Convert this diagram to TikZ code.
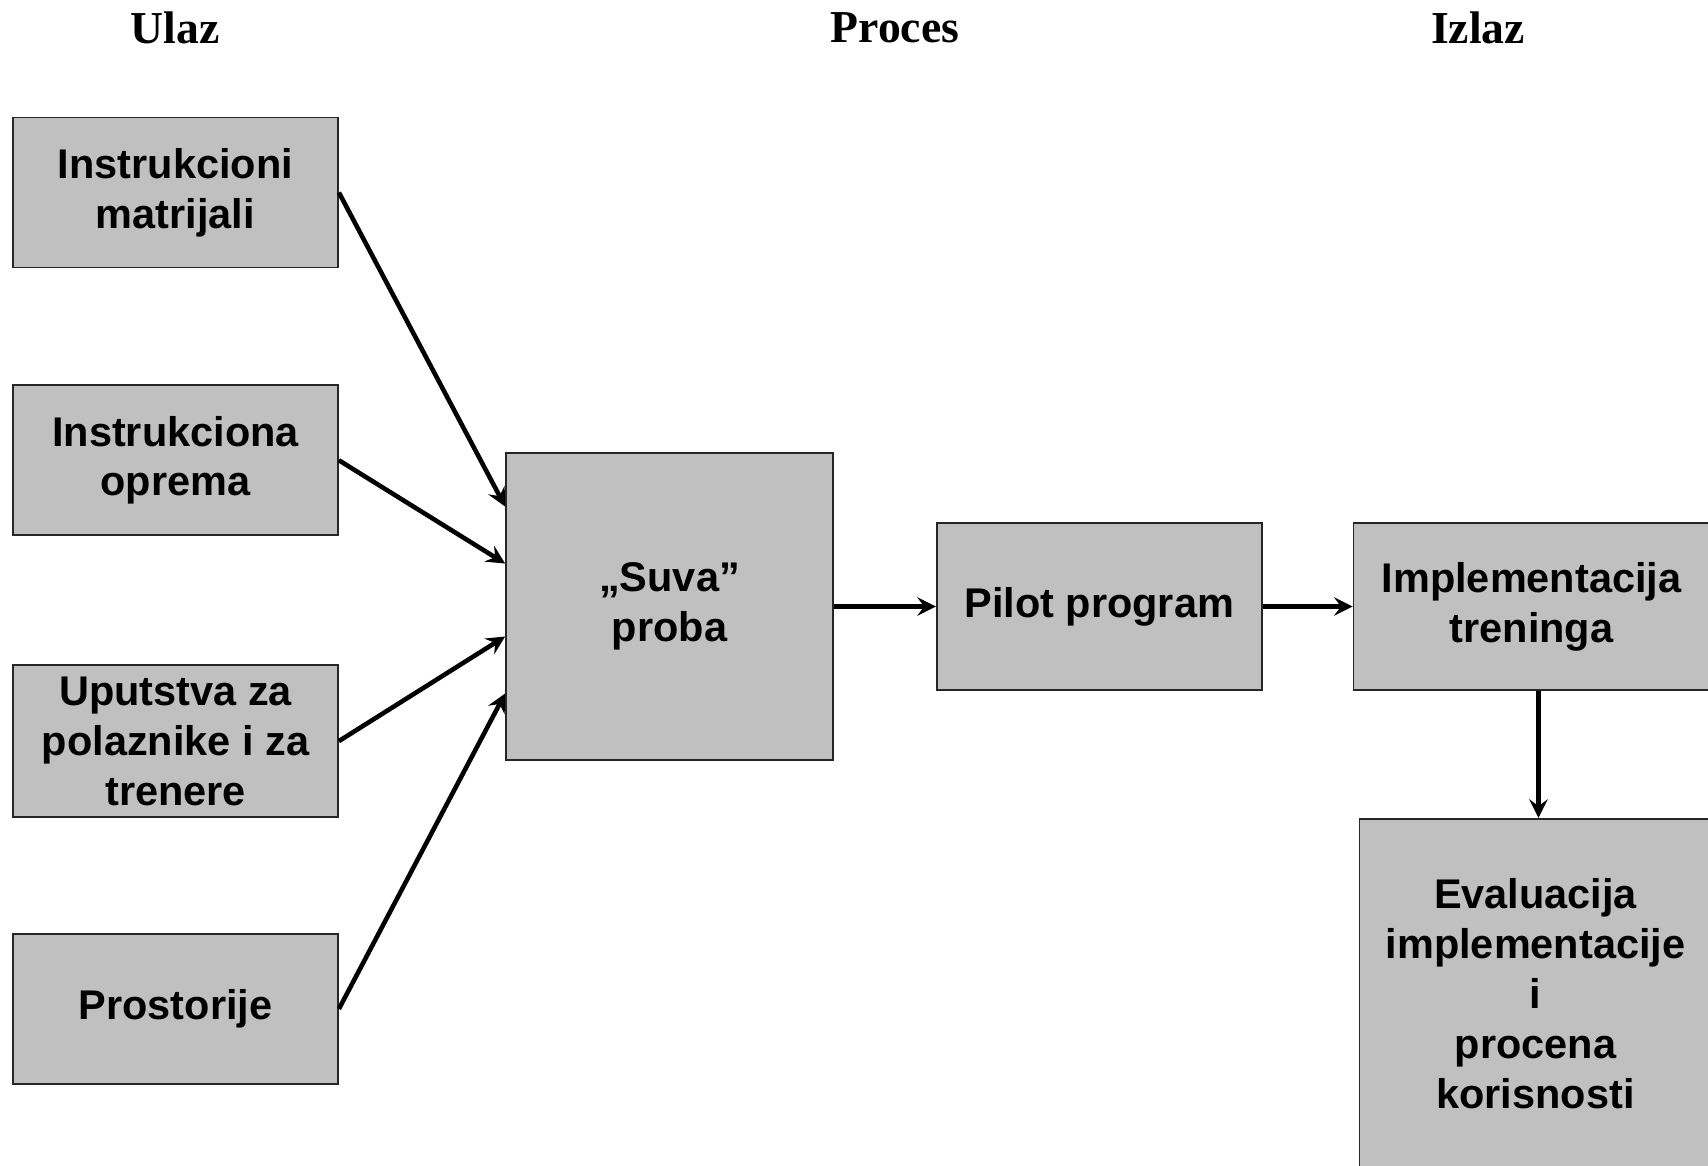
\documentclass[tikz,border=0pt]{standalone}
\usepackage{fontspec}
\setmainfont{Liberation Sans}
\newfontfamily\headfont{Liberation Serif}
\usepackage{tikz}
\usetikzlibrary{arrows,shapes,positioning,calc}
\usepackage{xcolor}
\definecolor{boxgray}{RGB}{192,192,192}

\begin{document}
\begin{tikzpicture}[
    node distance=1.2cm,
    block/.style={rectangle, draw=black!85, line width=0.5pt, fill=boxgray, minimum width=3.25cm, minimum height=1.5cm, align=center, font=\fontsize{11.8}{14.2}\selectfont\bfseries},
    head/.style={font=\headfont\fontsize{13}{15}\selectfont\bfseries},
    arrow/.style={->, >=stealth, line width=1.3pt}
]
\clip (0,0) rectangle (17.08,-11.65);

% naslovi
\node[head] (hulaz) at (1.75,-0.28) {Ulaz};
\node[head] (hproces) at (8.95,-0.28) {Proces};
\node[head] (hizlaz) at (14.78,-0.28) {Izlaz};

% ulaz
\node[block] (matr) at (1.755,-1.925) {Instrukcioni\\matrijali};
\node[block, below=1.16cm of matr] (oprema) {Instrukciona\\oprema};
\node[block, below=1.28cm of oprema] (uput) {Uputstva za\\polaznike i za\\trenere};
\node[block, below=1.15cm of uput] (prost) {Prostorije};

% proces
\node[block, minimum height=3.07cm, minimum width=3.27cm] (suva) at (6.695,-6.065) {„Suva”\\proba};
\node[block, minimum height=1.67cm, right=1.02cm of suva] (pilot) {Pilot program};

% izlaz
\node[block, minimum height=1.67cm, minimum width=3.56cm, right=0.9cm of pilot] (impl) {Implementacija\\treninga};
\node[block, minimum height=3.5cm, minimum width=3.52cm, below=1.27cm of impl, xshift=0.04cm] (eval) {Evaluacija\\implementacije\\i\\procena\\korisnosti};

% veze
\draw[arrow] (matr.east) -- ([yshift=1cm]suva.west);
\draw[arrow] (oprema.east) -- ([yshift=0.43cm]suva.west);
\draw[arrow] (uput.east) -- ([yshift=-0.3cm]suva.west);
\draw[arrow] (prost.east) -- ([yshift=-0.87cm]suva.west);
\draw[arrow] (suva) -- (pilot);
\draw[arrow] (pilot) -- (impl);
\draw[arrow] ([xshift=0.07cm]impl.south) -- ([xshift=0.07cm]impl.south |- eval.north);

\end{tikzpicture}
\end{document}
